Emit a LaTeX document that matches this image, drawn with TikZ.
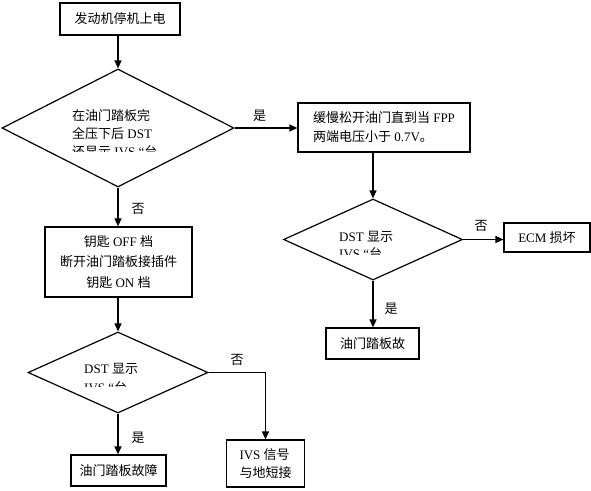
\documentclass[tikz,border=0pt]{standalone}
\usepackage{fontspec}
\setmainfont{Liberation Serif}
\newfontfamily\cjk{Noto Sans CJK SC}
\newcommand\zh[1]{{\cjk #1}}
\usetikzlibrary{shapes.geometric,arrows.meta}
\begin{document}
\begin{tikzpicture}[x=1pt,y=-1pt,
  every node/.style={font=\fontsize{13}{16}\selectfont},
  box/.style={draw, line width=1.2pt, inner sep=0pt},
  dia/.style={draw, diamond, line width=1.2pt, inner sep=0pt},
  arr/.style={line width=1.4pt, -{Triangle[length=8pt,width=7pt]}},
  lbl/.style={inner sep=0pt}]
\useasboundingbox (0,0) rectangle (591,490);
% boxes
\node[box, minimum width=120, minimum height=32] (b1) at (120,19) {\zh{发动机停机上电}};
\node[box, minimum width=172, minimum height=49, align=left, font=\fontsize{13}{19}\selectfont] (b2) at (384,127.5) {\zh{缓慢松开油门直到当} FPP\\\zh{两端电压小于} 0.7V\zh{。}};
\node[box, minimum width=86, minimum height=29] (ecm) at (547,237.5) {ECM \zh{损坏}};
\node[box, minimum width=93, minimum height=31] (b5) at (372.5,343.5) {\zh{油门踏板故}};
\node[box, minimum width=147, minimum height=70, align=center, font=\fontsize{13}{20.5}\selectfont] (b3) at (118.5,262) {\zh{钥匙} OFF \zh{档}\\\zh{断开油门踏板接插件}\\\zh{钥匙} ON \zh{档}};
\node[box, minimum width=78, minimum height=47, align=left, font=\fontsize{13}{18}\selectfont] (ivs) at (265.5,463.5) {IVS \zh{信号}\\\zh{与地短接}};
\node[box, minimum width=95, minimum height=31] (b6) at (118.5,470.5) {\zh{油门踏板故障}};
% diamonds
\node[dia, minimum width=232, minimum height=118] (d1) at (118,128) {};
\node[dia, minimum width=179, minimum height=81] (d2) at (373,239.5) {};
\node[dia, minimum width=180, minimum height=81] (d3) at (118,372.5) {};
% diamond texts
\node[lbl, anchor=base west] (t11) at (72,120) {\zh{在油门踏板完}};
\node[lbl, anchor=base west] (t12) at (72,138) {\zh{全压下后} DST};
\begin{scope}
  \clip (60,140) rectangle (190,151);
  \node[lbl, anchor=base west] (t13) at (72,156) {\zh{还显示} IVS “\zh{台}};
\end{scope}
\node[lbl, anchor=base west] (t21) at (339,241) {DST \zh{显示}};
\begin{scope}
  \clip (330,244) rectangle (420,254);
  \node[lbl, anchor=base west] (t22) at (339,258) {IVS “\zh{台}};
\end{scope}
\node[lbl, anchor=base west] (t31) at (84,373.5) {DST \zh{显示}};
\begin{scope}
  \clip (75,377) rectangle (170,386.7);
  \node[lbl, anchor=base west] (t32) at (84,392) {IVS “\zh{台}};
\end{scope}
% connectors
\draw[arr] (b1.south -| d1.north) -- (d1.north);
\draw[arr] (d1.east) -- (d1.east -| b2.west) node[lbl, pos=0.4, above=6pt] (l1) {\zh{是}};
\draw[arr] (b2.south -| d2.north) -- (d2.north);
\draw[arr] (d2.east) -- (d2.east -| ecm.west) node[lbl, pos=0.45, above=7pt] (l2) {\zh{否}};
\draw[arr] (d2.south) -- (d2.south |- b5.north) node[lbl, pos=0.6, right=11pt] (l3) {\zh{是}};
\draw[arr] (d1.south) -- (d1.south |- b3.north) node[lbl, pos=0.55, right=13pt] (l4) {\zh{否}};
\draw[arr] (b3.south -| d3.north) -- (d3.north);
\draw[arr] (d3.east) -| (ivs.north) node[lbl, pos=0.25, above=6pt] (l5) {\zh{否}};
\draw[arr] (d3.south) -- (d3.south |- b6.north) node[lbl, pos=0.6, right=13pt] (l6) {\zh{是}};
\end{tikzpicture}
\end{document}
